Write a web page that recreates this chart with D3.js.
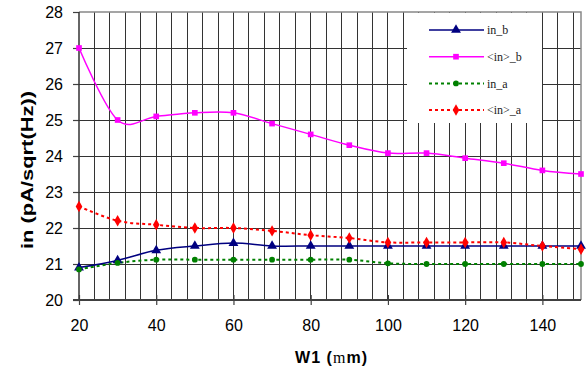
<!DOCTYPE html>
<meta charset="utf-8">
<style>
body { margin: 0; background: #fff; }
text { font-family: "Liberation Sans", Arial, sans-serif; }
.grid line { stroke: #333; stroke-width: 1; shape-rendering: crispEdges; }
.axis text { font-size: 16px; fill: #000; }
.axis line { stroke: #404040; stroke-width: 1.2; }
.axis .domain { display: none; }
.title { font-size: 16px; font-weight: bold; fill: #000; }
.legend text { font-family: "Liberation Serif", "Times New Roman", serif; font-size: 12px; fill: #222; }
</style>
<svg width="588" height="374"></svg>
<script src="https://d3js.org/d3.v7.min.js"></script>
<script>

var w1 = [20, 30, 40, 50, 60, 70, 80, 90, 100, 110, 120, 130, 140, 150];
var inB = [20.9, 21.1, 21.38, 21.5, 21.58, 21.5, 21.5, 21.5, 21.5, 21.5, 21.5, 21.5, 21.5, 21.5];
var inAvgB = [27.0, 25.0, 25.1, 25.2, 25.2, 24.9, 24.6, 24.3, 24.08, 24.08, 23.94, 23.8, 23.6, 23.5];
var inA = [20.85, 21.03, 21.12, 21.12, 21.12, 21.12, 21.12, 21.12, 21.02, 21.0, 21.0, 21.0, 21.0, 21.0];
var inAvgA = [22.6, 22.2, 22.09, 22.0, 22.0, 21.92, 21.8, 21.72, 21.6, 21.6, 21.6, 21.6, 21.5, 21.41];

var yTicks = [20, 21, 22, 23, 24, 25, 26, 27, 28];
var xTicks = [20, 40, 60, 80, 100, 120, 140];
var legendNames = ["in_b", "<in>_b", "in_a", "<in>_a"];

var series = [
  {name: legendNames[0], values: inB, color: "#000080", symbol: d3.symbolTriangle, size: 42, dash: null},
  {name: legendNames[1], values: inAvgB, color: "#ff00ff", symbol: d3.symbolSquare, size: 32, dash: null},
  {name: legendNames[2], values: inA, color: "#008000", symbol: d3.symbolCircle, size: 26, dash: "3,3"},
  {name: legendNames[3], values: inAvgA, color: "#ff0000", symbol: d3.symbolDiamond, size: 38, dash: "3,3"}
];

var svg = d3.select("svg");

var x = d3.scaleLinear().domain([20, 150]).range([79, 581]);
var y = d3.scaleLinear().domain([20, 28]).range([300, 12]);

// grid
var grid = svg.append("g").attr("class", "grid");
grid.selectAll(".v")
  .data(d3.range(24, 150, 4))
  .enter().append("line")
    .attr("x1", function(d) { return x(d); })
    .attr("x2", function(d) { return x(d); })
    .attr("y1", y(28))
    .attr("y2", y(20));
grid.selectAll(".h")
  .data(d3.range(21, 28))
  .enter().append("line")
    .attr("x1", x(20))
    .attr("x2", x(150))
    .attr("y1", function(d) { return y(d); })
    .attr("y2", function(d) { return y(d); });

// frame top/right
svg.append("path")
    .attr("d", "M" + x(20) + "," + y(28) + "H" + x(150) + "V" + y(20))
    .attr("fill", "none")
    .attr("stroke", "#888")
    .attr("stroke-width", 1.5);

// axes
var yAxis = svg.append("g")
    .attr("class", "axis")
    .attr("transform", "translate(" + x(20) + ",0)")
    .call(d3.axisLeft(y).tickValues(yTicks).tickSize(6).tickPadding(10));

var xAxis = svg.append("g")
    .attr("class", "axis")
    .attr("transform", "translate(0," + y(20) + ")")
    .call(d3.axisBottom(x).tickValues(xTicks).tickSize(5).tickPadding(15));
xAxis.selectAll(".tick line").attr("y1", -5);

svg.append("line")
    .attr("x1", x(20)).attr("x2", x(20))
    .attr("y1", y(28)).attr("y2", y(20))
    .attr("stroke", "#333").attr("stroke-width", 1.5);
svg.append("line")
    .attr("x1", x(20) - 6).attr("x2", x(150))
    .attr("y1", y(20)).attr("y2", y(20))
    .attr("stroke", "#404040").attr("stroke-width", 1.8);

// titles
var xt = svg.append("text")
    .attr("class", "title")
    .attr("x", 331)
    .attr("y", 363)
    .attr("text-anchor", "middle")
    .attr("textLength", 72)
    .attr("lengthAdjust", "spacing");
xt.append("tspan").text("W1 (");
xt.append("tspan").attr("font-family", "'Liberation Serif', serif").attr("font-weight", "normal").text("m");
xt.append("tspan").text("m)");

svg.append("text")
    .attr("class", "title")
    .attr("transform", "translate(33,170) rotate(-90)")
    .attr("text-anchor", "middle")
    .attr("textLength", 158)
    .attr("lengthAdjust", "spacingAndGlyphs")
    .text("in (pA/sqrt(Hz))");

// lines
var line = d3.line()
    .x(function(d, i) { return x(w1[i]); })
    .y(function(d) { return y(d); })
    .curve(d3.curveCardinal.tension(0));

series.forEach(function(s) {
  svg.append("path")
      .datum(s.values)
      .attr("fill", "none")
      .attr("stroke", s.color)
      .attr("stroke-width", s.dash ? 2 : 1.5)
      .attr("stroke-dasharray", s.dash)
      .attr("d", line);
});

series.forEach(function(s) {
  svg.append("g").selectAll("path")
    .data(s.values)
    .enter().append("path")
      .attr("transform", function(d, i) { return "translate(" + x(w1[i]) + "," + y(d) + ")"; })
      .attr("d", d3.symbol().type(s.symbol).size(s.size))
      .attr("fill", s.color);
});

// legend
var legend = svg.append("g").attr("class", "legend");
legend.append("rect")
    .attr("x", 407).attr("y", 13)
    .attr("width", 135).attr("height", 110)
    .attr("fill", "#fff");

var item = legend.selectAll(".item")
  .data(series)
  .enter().append("g")
    .attr("transform", function(d, i) { return "translate(0," + (30 + i * 26.7) + ")"; });

item.append("line")
    .attr("x1", 429).attr("x2", 484)
    .attr("stroke", function(d) { return d.color; })
    .attr("stroke-width", function(d) { return d.dash ? 2 : 1.5; })
    .attr("stroke-dasharray", function(d) { return d.dash; });
item.append("path")
    .attr("transform", "translate(456,0)")
    .attr("d", function(d) { return d3.symbol().type(d.symbol).size(d.size)(); })
    .attr("fill", function(d) { return d.color; });
item.append("text")
    .attr("x", 487)
    .attr("dy", "0.35em")
    .text(function(d) { return d.name; });

</script>
